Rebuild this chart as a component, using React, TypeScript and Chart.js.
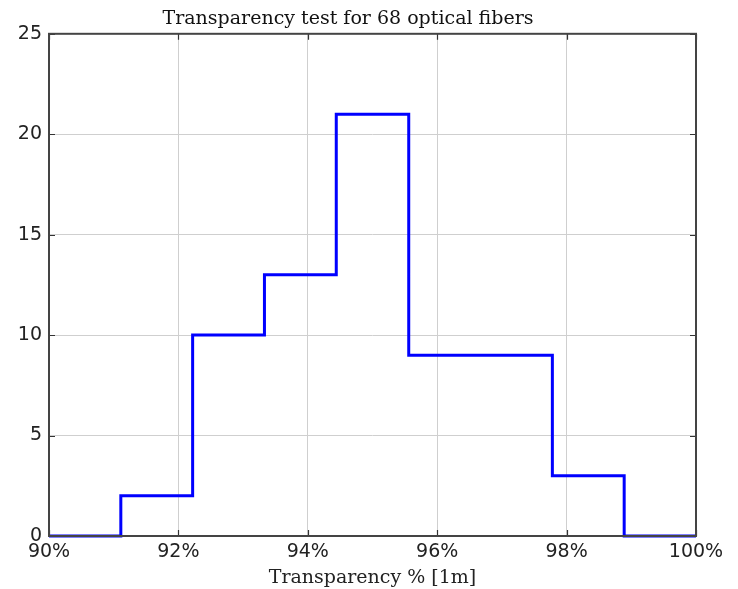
import React, { useEffect, useRef } from "react";
import { Chart, registerables } from "chart.js";

Chart.register(...registerables);

// Histogram bin edges (% transparency) and counts per bin
const binEdges = [90, 91.11, 92.22, 93.33, 94.44, 95.56, 96.67, 97.78, 98.89, 100];
const binCounts = [0, 2, 10, 13, 21, 9, 9, 3, 0];
const xTicks = [90, 92, 94, 96, 98, 100];
const yTicks = [0, 5, 10, 15, 20, 25];
const titleText = "Transparency test for 68 optical fibers";
const xLabel = "Transparency % [1m]";

const innerTicks = {
  id: "innerTicks",
  afterDatasetsDraw(chart: any) {
    const { ctx, chartArea, scales } = chart;
    const { left, right, top, bottom } = chartArea;
    ctx.save();
    ctx.strokeStyle = "#333";
    ctx.lineWidth = 1.2;
    const len = 6;
    ctx.beginPath();
    xTicks.forEach((v) => {
      const x = Math.round(scales.x.getPixelForValue(v)) + 0.5;
      ctx.moveTo(x, bottom);
      ctx.lineTo(x, bottom - len);
      ctx.moveTo(x, top);
      ctx.lineTo(x, top + len);
    });
    yTicks.forEach((v) => {
      const y = Math.round(scales.y.getPixelForValue(v)) + 0.5;
      ctx.moveTo(left, y);
      ctx.lineTo(left + len, y);
      ctx.moveTo(right, y);
      ctx.lineTo(right - len, y);
    });
    ctx.stroke();
    ctx.strokeStyle = "#444";
    ctx.lineWidth = 2;
    ctx.strokeRect(left, top, right - left, bottom - top);
    ctx.restore();
  },
};

export default function App() {
  const ref = useRef<HTMLCanvasElement>(null);
  useEffect(() => {
    document.body.style.margin = "0";
    const points = binEdges.map((e, i) => ({
      x: e,
      y: i < binCounts.length ? binCounts[i] : 0,
    }));
    const chart = new Chart(ref.current as HTMLCanvasElement, {
      type: "line",
      data: {
        datasets: [
          {
            data: points,
            stepped: "before",
            borderColor: "#0000ff",
            borderWidth: 3,
            pointRadius: 0,
            fill: false,
            clip: false as any,
          },
        ],
      },
      options: {
        animation: false,
        responsive: false,
        layout: { padding: { left: 0, right: 42, top: 0, bottom: 0 } },
        plugins: {
          legend: { display: false },
          tooltip: { enabled: false },
          title: {
            display: true,
            text: titleText,
            color: "#111",
            font: { family: "DejaVu Serif", size: 19, weight: "normal" },
            padding: { top: 8, bottom: 3 },
          },
        },
        scales: {
          x: {
            type: "linear",
            min: 90,
            max: 100,
            afterFit: (s: any) => {
              s.height = 53;
            },
            afterBuildTicks: (s: any) => {
              s.ticks = xTicks.map((v) => ({ value: v }));
            },
            ticks: {
              color: "#222",
              padding: 5,
              font: { family: "DejaVu Sans", size: 19 },
              callback: (v: any) => v + "%",
              maxRotation: 0,
            },
            grid: { color: "#cfcfcf", lineWidth: 1, drawTicks: false },
            border: { display: false },
            title: {
              display: true,
              text: xLabel,
              color: "#222",
              font: { family: "DejaVu Serif", size: 19 },
              padding: { top: 0, bottom: 0 },
            },
          },
          y: {
            type: "linear",
            min: 0,
            max: 25,
            afterFit: (s: any) => {
              s.width = 49;
            },
            afterBuildTicks: (s: any) => {
              s.ticks = yTicks.map((v) => ({ value: v }));
            },
            ticks: {
              color: "#222",
              padding: 7,
              font: { family: "DejaVu Sans", size: 19 },
            },
            grid: { color: "#cfcfcf", lineWidth: 1, drawTicks: false },
            border: { display: false },
          },
        },
      },
      plugins: [innerTicks],
    });
    return () => chart.destroy();
  }, []);
  return (
    <div style={{ width: 738, height: 589, background: "#fff" }}>
      <canvas ref={ref} width={738} height={589} />
    </div>
  );
}
